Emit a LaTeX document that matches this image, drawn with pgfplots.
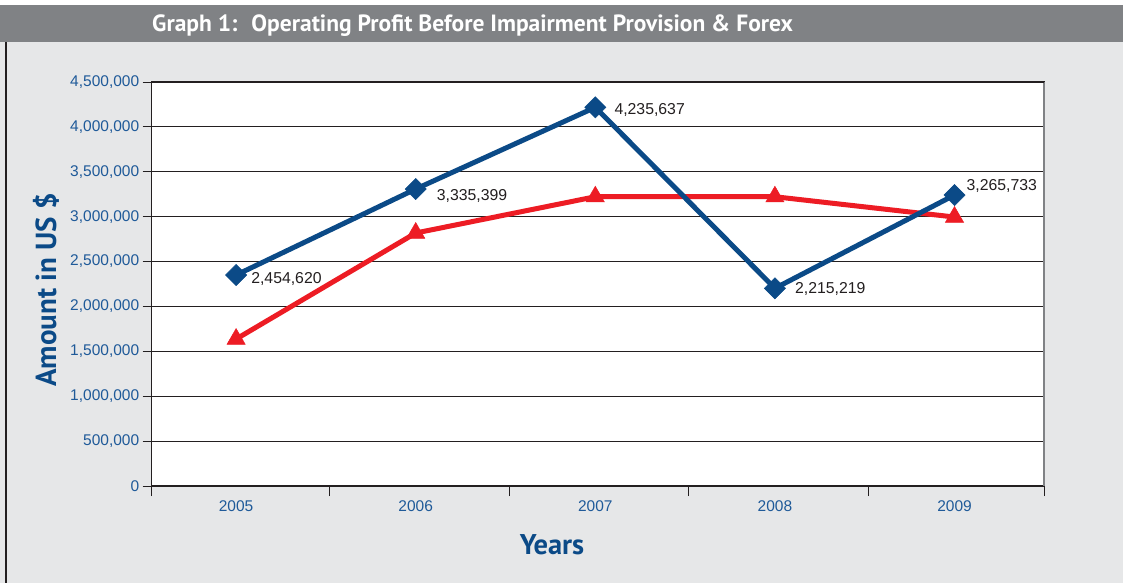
\documentclass[border=0pt]{standalone}
\usepackage{pgfplots}
\pgfplotsset{compat=1.18}
\usepackage{fontspec}
\setmainfont{Liberation Sans}
\newfontfamily\headfont{PT Sans}
\definecolor{bg}{HTML}{E6E7E8}
\definecolor{head}{HTML}{808285}
\definecolor{dblue}{HTML}{0B4A87}
\definecolor{tblue}{HTML}{1F5A99}
\definecolor{lred}{HTML}{ED1C24}
\definecolor{txt}{HTML}{231F20}
\begin{document}
\begin{tikzpicture}[x=1pt,y=1pt]
\fill[white] (0,0) rectangle (1123,-583);
\fill[bg] (0,-42) rectangle (1123,-583);
\fill[head] (0,-5) rectangle (1123,-42);
\draw[txt, line width=1.5pt] (6,-42) -- (6,-583);
\node[anchor=west, text=white, inner sep=0] at (152,-26) {\headfont\bfseries\fontsize{23.5}{26}\selectfont Graph 1:\hspace{14pt}Operating Profit Before Impairment Provision \& Forex};
\begin{axis}[at={(151.7pt,-486pt)}, anchor=south west, scale only axis,
  width=892.6pt, height=404pt,
  xmin=2004.53, xmax=2009.5, ymin=0, ymax=4500000,
  xtick={2005,2006,2007,2008,2009},
  xticklabels={2005,2006,2007,2008,2009},
  minor xtick={2004.53,2005.52,2006.52,2007.52,2008.52,2009.5},
  ytick={0,500000,1000000,1500000,2000000,2500000,3000000,3500000,4000000,4500000},
  xtick pos=bottom, ytick pos=left,
  scaled y ticks=false,
  /pgf/number format/fixed,
  /pgf/number format/1000 sep={,},
  /pgf/number format/assume math mode=true,
  tick label style={font=\fontsize{15.5}{18}\selectfont, text=tblue},
  xticklabel style={yshift=-2pt},
  tick align=outside, major tick length=9pt, minor tick length=10pt,
  tick style={txt, line width=1pt},
  major x tick style={draw=none},
  ymajorgrids, grid style={txt, line width=1pt},
  axis line style={txt, line width=1.2pt},
  axis background/.style={fill=white},
  clip=false,
]
\addplot[lred, line width=5pt, mark=triangle*, mark size=10.5pt, mark options={line width=0.5pt}]
  coordinates {(2005,1637000) (2006,2818000) (2007,3222000) (2008,3222000) (2009,2996000)};
\addplot[dblue, line width=5pt, mark=square*, mark size=7.5pt, mark options={rotate=45, line width=0.5pt}]
  coordinates {(2005,2350000) (2006,3308000) (2007,4218000) (2008,2202000) (2009,3241000)};
\draw[head, line width=2pt] (rel axis cs:1,0) -- (rel axis cs:1,1);
\draw[txt, line width=1.5pt] (rel axis cs:0,1) -- (rel axis cs:1,1);
\begin{scope}[every node/.style={anchor=west, text=txt, font=\fontsize{15.8}{18}\selectfont, inner sep=0}]
\node[xshift=15pt, yshift=-4pt] at (axis cs:2005,2350000) {2,454,620};
\node[xshift=21pt, yshift=-7pt] at (axis cs:2006,3308000) {3,335,399};
\node[xshift=19pt, yshift=-3pt] at (axis cs:2007,4218000) {4,235,637};
\node[xshift=20pt, yshift=-1pt] at (axis cs:2008,2202000) {2,215,219};
\node[xshift=12pt, yshift=9pt] at (axis cs:2009,3241000) {3,265,733};
\end{scope}
\end{axis}
\node[rotate=90, text=dblue, inner sep=0] at (46,-290) {\headfont\bfseries\fontsize{29}{30}\selectfont Amount in US \$};
\node[text=dblue, inner sep=0] at (552,-545) {\headfont\bfseries\fontsize{28.5}{30}\selectfont Years};
\end{tikzpicture}
\end{document}
